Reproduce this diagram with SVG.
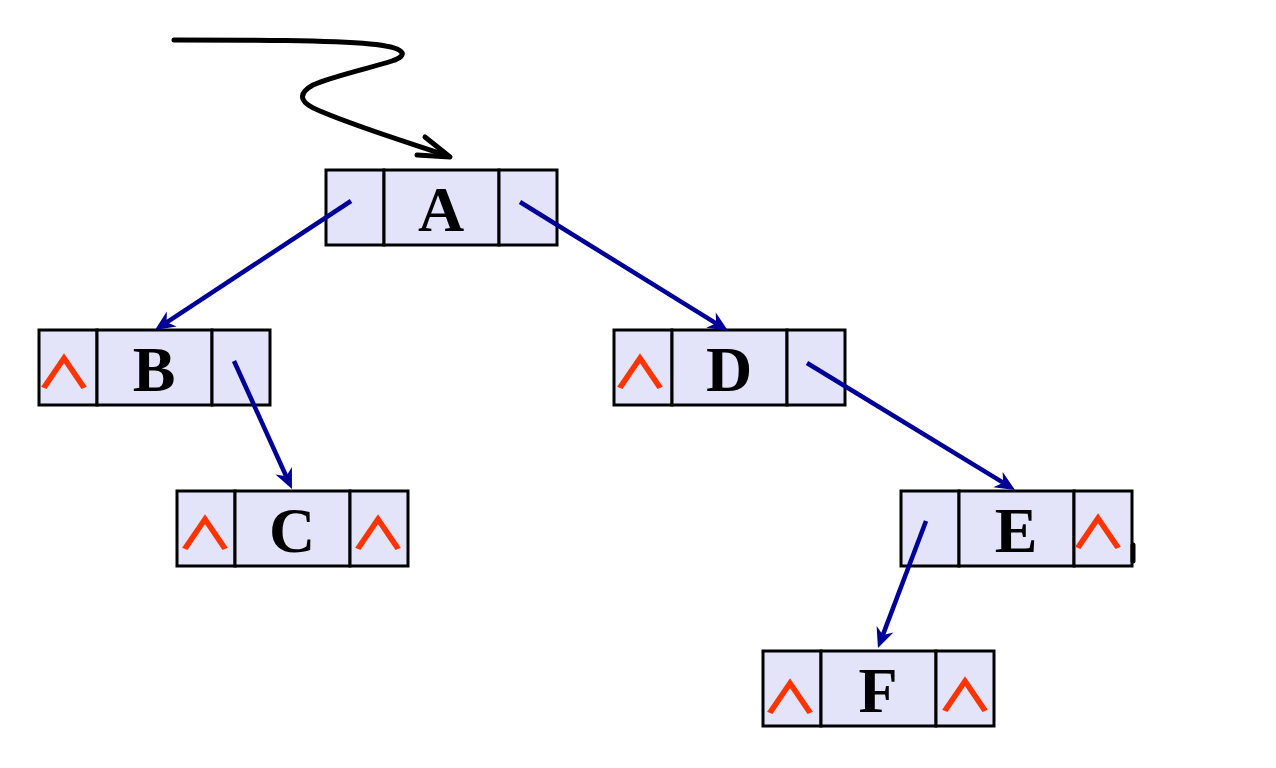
<svg xmlns="http://www.w3.org/2000/svg" width="1276" height="768" viewBox="0 0 1276 768">
  <style>
    .cell { fill: #E3E3F9; stroke: #000; stroke-width: 3; }
    .key { font-family: "Liberation Serif", "Times New Roman", serif; font-weight: bold; font-size: 64px; fill: #000; text-anchor: middle; }
    .nil { font-family: "Noto Sans CJK SC", "DejaVu Sans", sans-serif; font-weight: bold; font-size: 45px; fill: #FF3300; text-anchor: middle; }
    .link { stroke: #000099; stroke-width: 4.5; fill: none; marker-end: url(#head); }
    .root { stroke: #000; stroke-width: 5; fill: none; stroke-linecap: round; stroke-linejoin: round; }
  </style>
  <defs>
    <marker id="head" markerUnits="userSpaceOnUse" markerWidth="24" markerHeight="24" refX="6" refY="9" orient="auto" overflow="visible">
      <path d="M20,9 L0,0 L6,9 L0,18 Z" fill="#000099"/>
    </marker>
  </defs>

  <rect width="1276" height="768" fill="#fff"/>

  <!-- root pointer -->
  <g id="root-pointer">
    <path class="root" d="M174,40 C250,40 330,40 370,44 C405,47 410,55 392,61 C370,68 330,77 313,85 C295,95 302,104 320,111 C360,128 410,143 448,156"/>
    <polyline class="root" points="425,137 450,157 417,155"/>
  </g>

  <!-- node A -->
  <g id="node-A">
    <rect class="cell" x="326" y="170" width="58" height="75"/>
    <rect class="cell" x="384" y="170" width="115" height="75"/>
    <rect class="cell" x="499" y="170" width="58" height="75"/>
    <text class="key" x="441" y="231">A</text>
  </g>

  <!-- node B -->
  <g id="node-B">
    <rect class="cell" x="39" y="330" width="58" height="75"/>
    <rect class="cell" x="97" y="330" width="115" height="75"/>
    <rect class="cell" x="212" y="330" width="58" height="75"/>
    <text class="key" x="154" y="391">B</text>
    <text class="nil" transform="translate(64,389) scale(1.3,1)">∧</text>
  </g>

  <!-- node C -->
  <g id="node-C">
    <rect class="cell" x="177" y="491" width="58" height="75"/>
    <rect class="cell" x="235" y="491" width="115" height="75"/>
    <rect class="cell" x="350" y="491" width="58" height="75"/>
    <text class="key" x="292" y="552">C</text>
    <text class="nil" transform="translate(205,550) scale(1.3,1)">∧</text>
    <text class="nil" transform="translate(378,550) scale(1.3,1)">∧</text>
  </g>

  <!-- node D -->
  <g id="node-D">
    <rect class="cell" x="614" y="330" width="58" height="75"/>
    <rect class="cell" x="672" y="330" width="115" height="75"/>
    <rect class="cell" x="787" y="330" width="58" height="75"/>
    <text class="key" x="729" y="391">D</text>
    <text class="nil" transform="translate(640,389) scale(1.3,1)">∧</text>
  </g>

  <!-- node E -->
  <g id="node-E">
    <rect class="cell" x="901" y="491" width="58" height="75"/>
    <rect class="cell" x="959" y="491" width="115" height="75"/>
    <rect class="cell" x="1074" y="491" width="58" height="75"/>
    <text class="key" x="1016" y="552">E</text>
    <text class="nil" transform="translate(1098,549) scale(1.3,1)">∧</text>
    <line x1="1133" y1="545" x2="1133" y2="561" stroke="#000" stroke-width="5" stroke-linecap="round"/>
  </g>

  <!-- node F -->
  <g id="node-F">
    <rect class="cell" x="763" y="651" width="58" height="75"/>
    <rect class="cell" x="821" y="651" width="115" height="75"/>
    <rect class="cell" x="936" y="651" width="58" height="75"/>
    <text class="key" x="878" y="712">F</text>
    <text class="nil" transform="translate(790,714) scale(1.3,1)">∧</text>
    <text class="nil" transform="translate(965,712) scale(1.3,1)">∧</text>
  </g>

  <!-- child links -->
  <g id="links">
    <line class="link" x1="351" y1="201" x2="166.7" y2="322.3"/>
    <line class="link" x1="520" y1="202" x2="716.1" y2="323.3"/>
    <line class="link" x1="234" y1="361" x2="286.2" y2="476.2"/>
    <line class="link" x1="807" y1="363" x2="1003.1" y2="482.7"/>
    <line class="link" x1="926" y1="521" x2="882.9" y2="634.9"/>
  </g>
</svg>
